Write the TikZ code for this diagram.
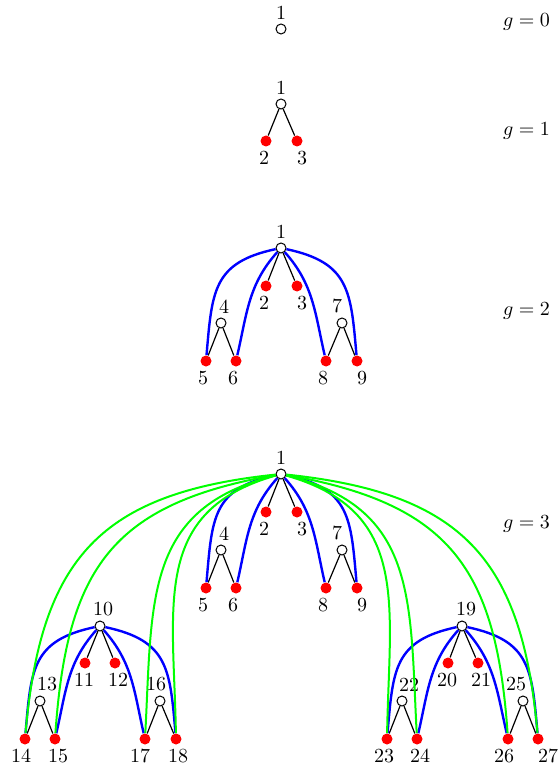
\documentclass[tikz,border=0pt]{standalone}
\usepackage{amsmath,amssymb}
\usepackage{tikz}

\begin{document}
\begin{tikzpicture}[x=0.5pt, y=-0.5pt,
	hollow/.style={circle, draw, fill=white, line width=0.5pt, inner sep=0pt, minimum size=5pt, label distance=-0.5pt},
	leaf/.style={circle, fill=red, inner sep=0pt, minimum size=5.5pt, label distance=0.5pt},
	every label/.style={inner sep=2pt},
	treeedge/.style={line width=0.6pt},
	bluearc/.style={blue, line width=1.2pt},
	greenarc/.style={green, line width=1pt}]
	\useasboundingbox (0,0) rectangle (559,770);
	% g = 0
	\node[hollow, label=above:1] (r1) at (281,29) {};
	% g = 1
	\node[hollow, label=above:1] (a1) at (281,104) {};
	\node[leaf, label={[xshift=-1pt]below:2}] (a2) at (266,141) {};
	\node[leaf, label={[xshift=2.5pt]below:3}] (a3) at (297,141) {};
	% g = 2
	\node[hollow, label=above:1] (b1) at (281,248) {};
	\node[leaf, label={[xshift=-1pt]below:2}] (b2) at (266,286) {};
	\node[leaf, label={[xshift=2.5pt]below:3}] (b3) at (297,286) {};
	\node[hollow, label={[xshift=1.5pt]above:4}] (b4) at (221,323) {};
	\node[hollow, label={[xshift=-2.5pt]above:7}] (b7) at (342,323) {};
	\node[leaf, label={[xshift=-1.5pt]below:5}] (b5) at (206,361) {};
	\node[leaf, label={[xshift=-1.5pt]below:6}] (b6) at (236,361) {};
	\node[leaf, label={[xshift=-1.5pt]below:8}] (b8) at (326,361) {};
	\node[leaf, label={[xshift=2.5pt]below:9}] (b9) at (357,361) {};
	% g = 3
	\node[hollow, label=above:1] (c1) at (281,474) {};
	\node[leaf, label={[xshift=-1pt]below:2}] (c2) at (266,512) {};
	\node[leaf, label={[xshift=2.5pt]below:3}] (c3) at (297,512) {};
	\node[hollow, label={[xshift=1.5pt]above:4}] (c4) at (221,550) {};
	\node[hollow, label={[xshift=-2.5pt]above:7}] (c7) at (342,550) {};
	\node[leaf, label={[xshift=-1.5pt]below:5}] (c5) at (206,588) {};
	\node[leaf, label={[xshift=-1.5pt]below:6}] (c6) at (236,588) {};
	\node[leaf, label={[xshift=-1.5pt]below:8}] (c8) at (326,588) {};
	\node[leaf, label={[xshift=2.5pt]below:9}] (c9) at (357,588) {};
	\node[hollow, label={[xshift=1.5pt]above:10}] (c10) at (100,626) {};
	\node[leaf, label={[xshift=-0.5pt]below:11}] (c11) at (85,663) {};
	\node[leaf, label={[xshift=1.5pt]below:12}] (c12) at (115,663) {};
	\node[hollow, label={[xshift=3.5pt]above:13}] (c13) at (40,701) {};
	\node[hollow, label={[xshift=-2pt]above:16}] (c16) at (160,701) {};
	\node[leaf, label={[xshift=-2pt]below:14}] (c14) at (25,739) {};
	\node[leaf, label={[xshift=1.5pt]below:15}] (c15) at (55,739) {};
	\node[leaf, label={[xshift=-2.5pt]below:17}] (c17) at (145,739) {};
	\node[leaf, label={[xshift=1pt]below:18}] (c18) at (176,739) {};
	\node[hollow, label={[xshift=2pt]above:19}] (c19) at (462,626) {};
	\node[leaf, label={[xshift=-0.5pt]below:20}] (c20) at (448,663) {};
	\node[leaf, label={[xshift=1.5pt]below:21}] (c21) at (478,663) {};
	\node[hollow, label={[xshift=3.5pt]above:22}] (c22) at (402,701) {};
	\node[hollow, label={[xshift=-3.5pt]above:25}] (c25) at (523,701) {};
	\node[leaf, label={[xshift=-1.5pt]below:23}] (c23) at (387,739) {};
	\node[leaf, label={[xshift=1.5pt]below:24}] (c24) at (417,739) {};
	\node[leaf, label={[xshift=-2pt]below:26}] (c26) at (508,739) {};
	\node[leaf, label={[xshift=5pt]below:27}] (c27) at (538,739) {};
	% level labels
	\node[anchor=east] (g0) at (557,22) {$g=0$};
	\node[anchor=east] (g1) at (557,131) {$g=1$};
	\node[anchor=east] (g2) at (557,311) {$g=2$};
	\node[anchor=east] (g3) at (557,524) {$g=3$};
	% tree edges
	\foreach \p/\u/\v in {a1/a2/a3, b1/b2/b3, b4/b5/b6, b7/b8/b9, c1/c2/c3, c4/c5/c6, c7/c8/c9, c10/c11/c12, c13/c14/c15, c16/c17/c18, c19/c20/c21, c22/c23/c24, c25/c26/c27}
		\draw[treeedge] (\p) -- (\u) (\p) -- (\v);
	% blue arcs
	\foreach \r/\s/\t/\u/\v in {b1/b5/b6/b8/b9, c1/c5/c6/c8/c9, c10/c14/c15/c17/c18, c19/c23/c24/c26/c27} {
		\draw[bluearc] (\r) to[out=192, in=85, looseness=1.3] (\s);
		\draw[bluearc] (\r) to[out=228, in=77] (\t);
		\draw[bluearc] (\r) to[out=312, in=103] (\u);
		\draw[bluearc] (\r) to[out=348, in=95, looseness=1.3] (\v);
	}
	% green arcs
	\foreach \t/\o/\i/\l in {14/186/85/1.25, 15/190/86/1.25, 17/194/87/1.2, 18/196/91/1.2, 23/344/89/1.2, 24/346/93/1.2, 26/350/94/1.25, 27/354/95/1.25}
		\draw[greenarc] (c1) to[out=\o, in=\i, looseness=\l] (c\t);
\end{tikzpicture}
\end{document}
